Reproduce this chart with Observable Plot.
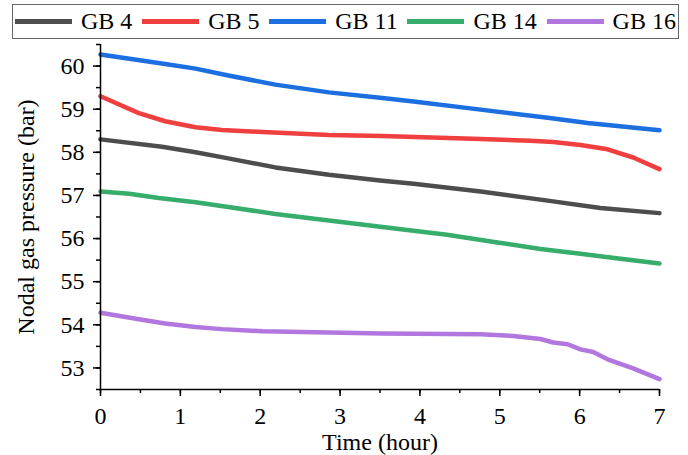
<!DOCTYPE html>
<html>
<head>
<meta charset="utf-8">
<script src="https://cdn.jsdelivr.net/npm/d3@7"></script>
<script src="https://cdn.jsdelivr.net/npm/@observablehq/plot@0.6"></script>
<style>
  body { margin: 0; background: #fff; }
  #wrap { position: relative; width: 688px; height: 455px; font-family: "Liberation Serif", serif; font-weight: normal; }
  #wrap svg, #wrap svg text { font-family: "Liberation Serif", serif !important; font-weight: normal !important; }
  #legend { position: absolute; left: 12px; top: 4px; width: 667px; height: 35px; border: 1px solid #666; box-sizing: border-box;
    display: flex; align-items: center; justify-content: space-between; padding: 0 2px 0 2px; font-size: 24px; background: #fff; font-weight: normal; }
  .item { display: flex; align-items: center; }
  .sw { width: 57px; height: 5px; margin-right: 9px; }
</style>
</head>
<body>
<div id="wrap"><div id="legend"></div></div>
<script>
const seriesNames = ["GB 4", "GB 5", "GB 11", "GB 14", "GB 16"];
const seriesColors = ["#4d4d4d", "#ef3f3f", "#1b6fe0", "#36ad6a", "#b177de"];

const gb4T = [0, 0.77, 1.19, 1.6, 2.19, 2.86, 3.53, 3.92, 4.76, 5.6, 6.26, 7];
const gb4V = [58.30, 58.13, 58.00, 57.86, 57.65, 57.48, 57.34, 57.27, 57.09, 56.88, 56.71, 56.59];

const gb5T = [0, 0.48, 0.81, 1.19, 1.52, 2.03, 2.86, 3.53, 4.76, 5.38, 5.67, 6.01, 6.35, 6.67, 7];
const gb5V = [59.30, 58.91, 58.72, 58.58, 58.52, 58.47, 58.40, 58.38, 58.31, 58.27, 58.24, 58.17, 58.07, 57.88, 57.61];

const gb11T = [0, 0.81, 1.19, 1.6, 2.19, 2.86, 3.53, 3.92, 4.76, 5.6, 6.1, 7];
const gb11V = [60.27, 60.05, 59.94, 59.78, 59.57, 59.39, 59.26, 59.18, 58.99, 58.80, 58.68, 58.51];

const gb14T = [0, 0.36, 0.73, 1.19, 1.6, 2.19, 2.86, 3.53, 3.92, 4.34, 4.97, 5.51, 6.01, 6.51, 7];
const gb14V = [57.09, 57.04, 56.94, 56.84, 56.73, 56.57, 56.42, 56.27, 56.18, 56.09, 55.91, 55.76, 55.65, 55.53, 55.42];

const gb16T = [0, 0.48, 0.81, 1.19, 1.52, 2.03, 2.86, 3.53, 4.76, 5.17, 5.51, 5.67, 5.85, 6.01, 6.17, 6.35, 6.67, 7];
const gb16V = [54.28, 54.13, 54.03, 53.95, 53.90, 53.85, 53.82, 53.80, 53.78, 53.74, 53.67, 53.59, 53.55, 53.43, 53.37, 53.20, 52.99, 52.74];

const xMajor = [0, 1, 2, 3, 4, 5, 6, 7];
const yMajor = [53, 54, 55, 56, 57, 58, 59, 60];

const allT = [gb4T, gb5T, gb11T, gb14T, gb16T];
const allV = [gb4V, gb5V, gb11V, gb14V, gb16V];
const data = [];
seriesNames.forEach((s, i) => allT[i].forEach((t, j) => data.push({series: s, t, v: allV[i][j]})));

const xMinor = d3.range(0, 7.001, 0.5);
const yMinor = d3.range(52.5, 60.501, 0.5);

const chart = Plot.plot({
  width: 688,
  height: 455,
  marginLeft: 100,
  marginRight: 29,
  marginTop: 44,
  marginBottom: 66,
  style: { fontFamily: "'Liberation Serif', serif", fontSize: "24px", color: "#000", background: "transparent" },
  x: { domain: [0, 7] },
  y: { domain: [52.5, 60.5] },
  color: { domain: seriesNames, range: seriesColors },
  marks: [
    Plot.lineY(data, { x: "t", y: "v", stroke: "series", strokeWidth: 4.5 }),
    Plot.axisX({ ticks: xMinor, tickSize: 4, text: null, strokeWidth: 1.5, label: null }),
    Plot.axisX({ ticks: xMajor, tickSize: 7, tickPadding: 10, strokeWidth: 1.5, fontSize: 24, tickFormat: d3.format("d"),
      label: "Time (hour)", labelAnchor: "center", labelArrow: "none", labelOffset: 60 }),
    Plot.axisY({ ticks: yMinor, tickSize: 4, text: null, strokeWidth: 1.5, label: null }),
    Plot.axisY({ ticks: yMajor, tickSize: 7, tickPadding: 9, strokeWidth: 1.5, fontSize: 24, tickFormat: d3.format("d"),
      label: "Nodal gas pressure (bar)", labelAnchor: "center", labelArrow: "none", labelOffset: 84 }),
    Plot.ruleX([0], { strokeWidth: 1.5 }),
    Plot.ruleY([52.5], { strokeWidth: 1.5 })
  ]
});
document.getElementById("wrap").appendChild(chart);

const legend = document.getElementById("legend");
seriesNames.forEach((s, i) => {
  const it = document.createElement("div");
  it.className = "item";
  const sw = document.createElement("div");
  sw.className = "sw";
  sw.style.background = seriesColors[i];
  const tx = document.createElement("span");
  tx.textContent = s;
  it.appendChild(sw); it.appendChild(tx);
  legend.appendChild(it);
});
</script>
</body>
</html>
